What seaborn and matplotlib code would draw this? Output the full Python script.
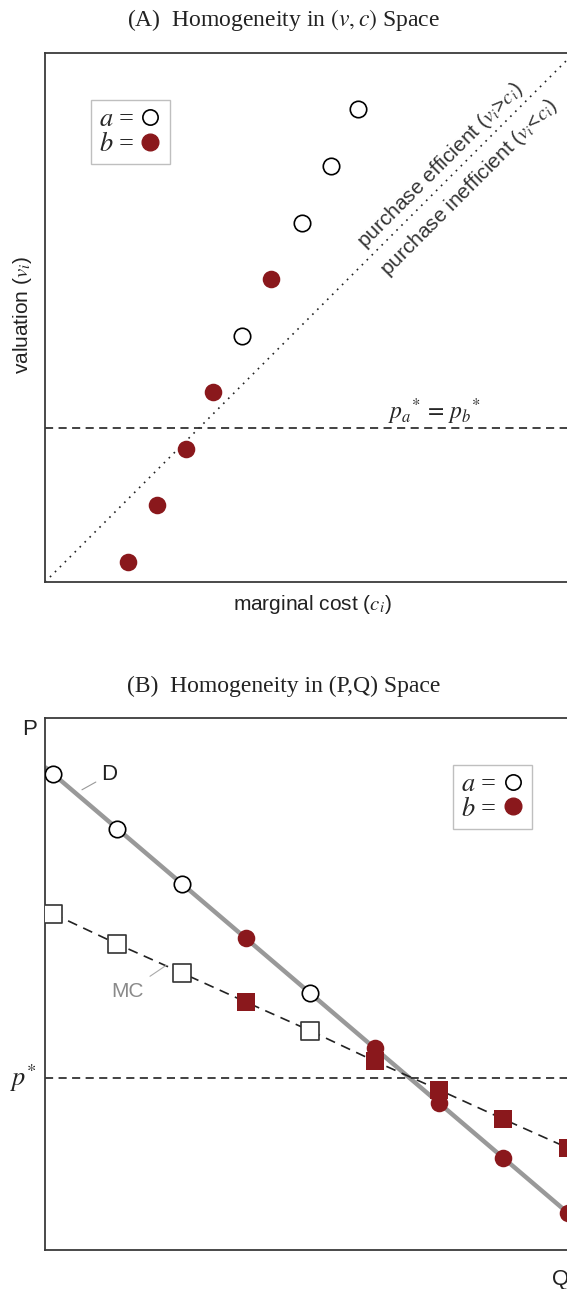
import matplotlib
matplotlib.use("Agg")
import matplotlib.pyplot as plt
from matplotlib.lines import Line2D
import seaborn as sns
import pandas as pd

# ---- Panel A: valuation vs. marginal cost ----
cost_a = [3.72, 4.85, 5.40, 5.92]
value_a = [4.65, 6.79, 7.86, 8.94]
cost_b = [1.57, 2.11, 2.66, 3.17, 4.28]
value_b = [0.38, 1.46, 2.51, 3.59, 5.73]
price_ab = 2.91

# ---- Panel B: demand and marginal cost by unit ----
quantity = [0, 1, 2, 3, 4, 5, 6, 7, 8]
group = ["a", "a", "a", "b", "a", "b", "b", "b", "b"]
demand = [8.95, 7.91, 6.88, 5.86, 4.83, 3.80, 2.76, 1.73, 0.70]
marg_cost = [6.32, 5.75, 5.21, 4.66, 4.12, 3.55, 3.01, 2.46, 1.92]
p_star = 3.23

RED = "#8a181c"
SPINE = "#3a3a3a"

sns.set_theme(style="white")
plt.rcParams["font.family"] = ["Liberation Sans", "DejaVu Sans"]
plt.rcParams["mathtext.fontset"] = "stix"

fig = plt.figure(figsize=(5.67, 12.89), dpi=100)
W = 0.933

def style_axes(ax):
    ax.set_xticks([])
    ax.set_yticks([])
    ax.set_xlabel("")
    ax.set_ylabel("")
    for side in ["left", "bottom", "top"]:
        ax.spines[side].set_color(SPINE)
        ax.spines[side].set_linewidth(1.3)
    ax.spines["right"].set_visible(False)

def legend_box(ax, anchor):
    handles = [
        Line2D([], [], ls="none", marker="o", ms=11, mfc="white", mec="black", mew=1.2),
        Line2D([], [], ls="none", marker="o", ms=12, mfc=RED, mec=RED),
    ]
    leg = ax.legend(handles, ["$a$ =", "$b$ ="], loc="upper left", bbox_to_anchor=anchor,
                    borderaxespad=0, markerfirst=False, frameon=True, fancybox=False,
                    handletextpad=0.15, handlelength=0.9, labelspacing=0.02,
                    borderpad=0.3, prop={"size": 19, "family": "Liberation Serif"})
    leg.get_frame().set_edgecolor("#b0b0b0")
    leg.get_frame().set_linewidth(1.0)

# ================= Panel A =================
axA = fig.add_axes([0.0794, 0.5485, W, 0.4104])
axA.set_xlim(0, 10)
axA.set_ylim(0, 10)
axA.axline((0, 0), slope=1, color="#222222", lw=1.2, ls=(0, (1, 3.2)), zorder=1)
axA.axhline(price_ab, color="#333333", lw=1.3, ls=(0, (4.5, 3)), zorder=1)
sns.scatterplot(x=cost_b, y=value_b, ax=axA, color=RED, s=160, edgecolor=RED,
                linewidth=0, zorder=3)
sns.scatterplot(x=cost_a, y=value_a, ax=axA, color="white", s=140, edgecolor="black",
                linewidth=1.2, zorder=3)
axA.text(7.36, 3.22, r"$p_a{}^{*}\,=\,p_b{}^{*}$", fontsize=17, ha="center", va="center")
axA.text(7.47, 7.88, "purchase efficient ($v_i$>$c_i$)", rotation=45, rotation_mode="anchor",
         ha="center", va="center", fontsize=15, color="#333333")
axA.text(8.02, 7.46, "purchase inefficient ($v_i$<$c_i$)", rotation=45, rotation_mode="anchor",
         ha="center", va="center", fontsize=15, color="#333333")
legend_box(axA, (0.087, 0.911))
style_axes(axA)

fig.text(0.5, 1 - 20 / 1289, "(A)  Homogeneity in $(v, c)$ Space", ha="center", va="center",
         fontsize=17, family="Liberation Serif", color="#222222")
fig.text(312 / 567, 1 - 604 / 1289, "marginal cost ($c_i$)", ha="center", va="center",
         fontsize=15, color="#222222")
fig.text(22 / 567, 1 - 315 / 1289, "valuation ($v_i$)", ha="center", va="center",
         rotation=90, fontsize=15, color="#222222")

# ================= Panel B =================
axB = fig.add_axes([0.0794, 0.0303, W, 0.4127])
axB.set_xlim(-0.124, 8.10)
axB.set_ylim(0, 10)
df = pd.DataFrame({"q": quantity, "group": group, "demand": demand, "mc": marg_cost})
axB.axline((quantity[0], demand[0]), (quantity[-1], demand[-1]), color="#999999", lw=3.2,
           zorder=1, solid_capstyle="butt")
sns.lineplot(data=df, x="q", y="mc", ax=axB, color="#222222", lw=1.2, zorder=1,
             linestyle=(0, (6, 4)))
axB.axhline(p_star, color="#333333", lw=1.3, ls=(0, (4.5, 3)), zorder=1)

da = df[df.group == "a"]
db = df[df.group == "b"]
sns.scatterplot(data=da, x="q", y="mc", ax=axB, marker="s", color="white", s=150,
                edgecolor="#333333", linewidth=1.2, zorder=3)
sns.scatterplot(data=db, x="q", y="mc", ax=axB, marker="s", color=RED, s=165,
                edgecolor=RED, linewidth=0, zorder=3)
sns.scatterplot(data=da, x="q", y="demand", ax=axB, color="white", s=140,
                edgecolor="black", linewidth=1.2, zorder=4)
sns.scatterplot(data=db, x="q", y="demand", ax=axB, color=RED, s=160,
                edgecolor=RED, linewidth=0, zorder=4)

# curve labels with thin leader lines
axB.annotate("D", xy=(0.45, 8.65), xytext=(0.88, 8.94), fontsize=16, color="#222222",
             ha="center", va="center",
             arrowprops=dict(arrowstyle="-", color="#999999", lw=0.8, shrinkA=2, shrinkB=0))
axB.annotate("MC", xy=(1.76, 5.35), xytext=(1.16, 4.86), fontsize=15, color="#8a8a8a",
             ha="center", va="center",
             arrowprops=dict(arrowstyle="-", color="#aaaaaa", lw=0.8, shrinkA=3, shrinkB=0))
legend_box(axB, (0.772, 0.912))
style_axes(axB)

fig.text(0.5, 1 - 686 / 1289, "(B)  Homogeneity in (P,Q) Space", ha="center", va="center",
         fontsize=17, family="Liberation Serif", color="#222222")
fig.text(30 / 567, 1 - 730 / 1289, "P", ha="center", va="center", fontsize=16, color="#222222")
fig.text(552 / 567, 1 - 1279 / 1289, "Q", ha="left", va="center", fontsize=16, color="#222222")
fig.text(24 / 567, 1 - 1078 / 1289, "$p^{*}$", ha="center", va="center", fontsize=19,
         color="#222222")

fig.savefig("out.png", dpi=100)
